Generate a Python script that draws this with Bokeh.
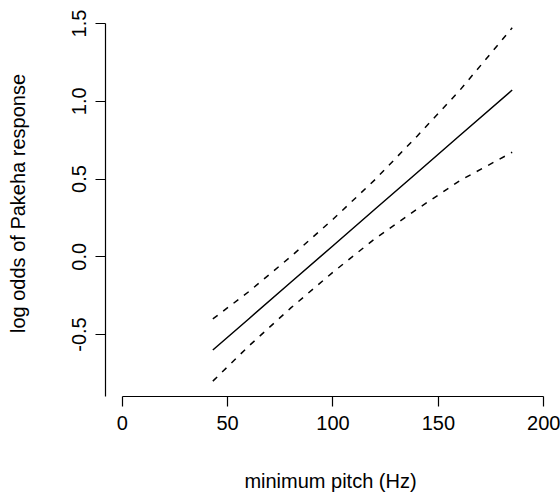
from bokeh.plotting import figure
from bokeh.models import FixedTicker, Range1d
from bokeh.embed import file_html
from bokeh.resources import INLINE

# Fitted log odds and confidence band against minimum pitch
pitch = [43, 60, 80, 100, 120, 140, 160, 185]
fit = [-0.600, -0.400, -0.164, 0.071, 0.307, 0.542, 0.778, 1.072]
upper = [-0.400, -0.225, 0.001, 0.241, 0.497, 0.777, 1.068, 1.472]
lower = [-0.800, -0.575, -0.329, -0.099, 0.117, 0.307, 0.488, 0.672]

x_ticks = [0, 50, 100, 150, 200]
y_ticks = [-0.5, 0.0, 0.5, 1.0, 1.5]
y_tick_labels = ["-0.5", "0.0", "0.5", "1.0", "1.5"]

FONT = "Liberation Sans"
FS = "20px"

p = figure(
    width=560, height=494,
    output_backend="svg", toolbar_location=None,
    x_range=Range1d(-7.92, 205.55), y_range=Range1d(-0.8987, 1.5836),
    min_border_left=105, min_border_right=5,
    min_border_top=10, min_border_bottom=98,
)
p.outline_line_color = None
p.grid.visible = False
p.background_fill_color = "white"
p.border_fill_color = "white"

p.line(pitch, fit, line_color="black", line_width=1.5)
p.line(pitch, upper, line_color="black", line_width=1.5, line_dash="6 7")
p.line(pitch, lower, line_color="black", line_width=1.5, line_dash="6 7")

for ax in (p.xaxis[0], p.yaxis[0]):
    ax.axis_line_color = "black"
    ax.axis_line_width = 1.2
    ax.major_tick_line_color = "black"
    ax.major_tick_line_width = 1.2
    ax.major_tick_out = 10
    ax.major_tick_in = 0
    ax.minor_tick_line_color = None
    ax.major_label_text_font = FONT
    ax.major_label_text_font_size = FS
    ax.major_label_text_color = "black"
    ax.axis_label_text_font = FONT
    ax.axis_label_text_font_size = FS
    ax.axis_label_text_font_style = "normal"
    ax.axis_label_text_color = "black"

p.xaxis.ticker = FixedTicker(ticks=x_ticks)
p.xaxis.bounds = (x_ticks[0], x_ticks[-1])
p.xaxis.major_label_overrides = {t: str(t) for t in x_ticks}
p.xaxis.axis_label = "minimum pitch (Hz)"
p.xaxis.major_label_standoff = 9
p.xaxis.axis_label_standoff = 37

p.yaxis.ticker = FixedTicker(ticks=y_ticks)
p.yaxis.bounds = (-0.8987, y_ticks[-1])
p.yaxis.major_label_overrides = dict(zip(y_ticks, y_tick_labels))
p.yaxis.major_label_orientation = "parallel"
p.yaxis.axis_label = "log odds of Pakeha response"
p.yaxis.major_label_standoff = 9
p.yaxis.axis_label_standoff = 41

open("out.html", "w").write(file_html(p, INLINE))
